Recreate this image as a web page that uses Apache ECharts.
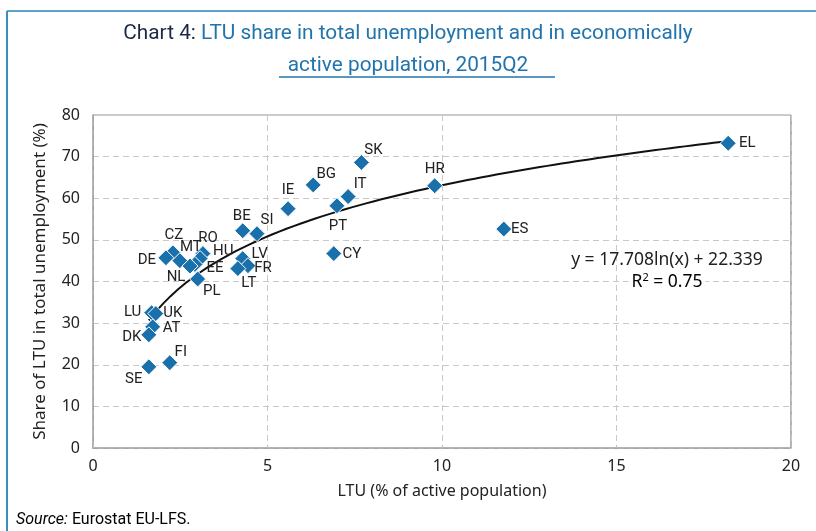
<!DOCTYPE html>
<html lang="en">
<head>
    <meta charset="UTF-8">
    <title>Chart 4</title>
    <script type="text/javascript" src="https://cdn.jsdelivr.net/npm/echarts@6/dist/echarts.min.js"></script>
    <style>
        html, body { margin: 0; padding: 0; background: #fff; }
        #main { width: 816px; height: 531px; }
    </style>
</head>
<body>
<div id="main"></div>
<script>
    // country codes
    let countries = ['EL', 'ES', 'HR', 'SK', 'IT', 'PT', 'CY', 'BG', 'IE', 'BE', 'SI', 'LV', 'FR', 'LT',
        'CZ', 'DE', 'MT', 'RO', 'HU', 'EE', 'NL', 'PL', 'LU', 'UK', 'AT', 'DK', 'SE', 'FI'];
    // LTU (% of active population)
    let ltuActive = [18.20, 11.77, 9.79, 7.69, 7.31, 6.99, 6.90, 6.31, 5.59, 4.29, 4.70, 4.29, 4.44, 4.15,
        2.29, 2.09, 2.49, 3.15, 3.07, 2.92, 2.78, 3.00, 1.68, 1.80, 1.71, 1.60, 1.60, 2.20];
    // share of LTU in total unemployment (%)
    let ltuShare = [73.2, 52.6, 63.0, 68.6, 60.4, 58.2, 46.7, 63.2, 57.5, 52.2, 51.5, 45.5, 43.8, 43.1,
        46.9, 45.7, 45.0, 46.7, 45.5, 44.1, 43.7, 40.6, 32.5, 32.3, 29.1, 27.2, 19.5, 20.5];
    // trendline y = a ln(x) + b
    let trendA = 17.708;
    let trendB = 22.339;

    // label centre offset from the marker (px)
    let labelOffset = {
        EL: [19, 0], ES: [16, 0], HR: [0, -17], SK: [12, -12], IT: [12, -12], PT: [1, 21], CY: [18, 1],
        BG: [13, -11], IE: [0, -18], BE: [-1, -14], SI: [10, -13], LV: [17, -4], FR: [15, 3], LT: [11, 15],
        CZ: [1, -18], DE: [-19, 2], MT: [11, -13], RO: [5, -15], HU: [23, -7], EE: [20, 4], NL: [-14, 11],
        PL: [14, 12], LU: [-19, 0], UK: [17, 0], AT: [19, 1], DK: [-17, 2], SE: [-15, 12], FI: [11, -10]
    };

    let scatterData = [];
    for (let i = 0; i < countries.length; i++) {
        scatterData.push({
            name: countries[i],
            value: [ltuActive[i], ltuShare[i]],
            label: {offset: labelOffset[countries[i]]}
        });
    }

    // trendline points over the data range
    let xMin = Math.min.apply(null, ltuActive);
    let xMax = Math.max.apply(null, ltuActive);
    let trendData = [];
    for (let k = 0; k <= 80; k++) {
        let x = xMin + (xMax - xMin) * k / 80;
        trendData.push([x, trendA * Math.log(x) + trendB]);
    }

    let narrow = 'Roboto, "Noto Sans", sans-serif';
    let plain = '"Noto Sans", "Open Sans", sans-serif';

    var myChart = echarts.init(document.getElementById('main'));
    var option = {
        animation: false,
        title: {
            left: 'center',
            top: 13,
            textStyle: {
                rich: {
                    a: {fontFamily: narrow, fontSize: 20.8, fontWeight: 'normal', color: '#1b2a44', lineHeight: 32},
                    b: {fontFamily: narrow, fontSize: 20.8, fontWeight: 'normal', color: '#2274ad', lineHeight: 32}
                }
            },
            text: '{a|Chart 4: }{b|LTU share in total unemployment and in economically}\n{b|active population, 2015Q2}'
        },
        grid: {left: 93, right: 25, top: 115, bottom: 83},
        xAxis: {
            type: 'value',
            min: 0, max: 20, interval: 5,
            name: 'LTU (% of active population)',
            nameLocation: 'middle',
            nameGap: 35,
            nameTextStyle: {fontFamily: plain, fontSize: 16, color: '#222'},
            axisLine: {show: true, lineStyle: {color: '#9a9a9a', width: 1.5}},
            axisTick: {show: true, inside: true, length: 3, lineStyle: {color: '#bbb'}},
            axisLabel: {fontFamily: plain, fontSize: 16, color: '#222', margin: 10},
            splitLine: {show: true, lineStyle: {color: '#c8c8c8', type: [6, 4]}}
        },
        yAxis: {
            type: 'value',
            min: 0, max: 80, interval: 10,
            name: 'Share of LTU in total unemployment (%)',
            nameLocation: 'middle',
            nameGap: 44,
            nameTextStyle: {fontFamily: plain, fontSize: 17, color: '#222'},
            axisLine: {show: true, lineStyle: {color: '#9a9a9a', width: 1.5}},
            axisTick: {show: false},
            axisLabel: {fontFamily: plain, fontSize: 16, color: '#222', margin: 13},
            splitLine: {show: true, lineStyle: {color: '#c8c8c8', type: [6, 4]}}
        },
        series: [
            {
                type: 'line',
                data: trendData,
                showSymbol: false,
                symbol: 'none',
                lineStyle: {color: '#111', width: 2},
                silent: true,
                z: 1
            },
            {
                type: 'scatter',
                symbol: 'diamond',
                symbolSize: 16,
                itemStyle: {color: '#1a70ab', opacity: 1, borderColor: '#fff', borderWidth: 1},
                label: {
                    show: true,
                    position: 'inside',
                    formatter: '{b}',
                    fontFamily: narrow,
                    fontSize: 15,
                    color: '#222'
                },
                data: scatterData,
                z: 2
            }
        ],
        graphic: [
            // frame lines
            {type: 'line', shape: {x1: 7, y1: 11, x2: 816, y2: 11}, style: {stroke: '#5aa3c9', lineWidth: 2}},
            {type: 'line', shape: {x1: 7, y1: 11, x2: 7, y2: 531}, style: {stroke: '#3d8dbd', lineWidth: 2}},
            // title underline
            {type: 'line', shape: {x1: 279, y1: 77, x2: 555, y2: 77}, style: {stroke: '#2274ad', lineWidth: 1.5}},
            // plot top & right border
            {type: 'line', shape: {x1: 93, y1: 115, x2: 791, y2: 115}, style: {stroke: '#9a9a9a', lineWidth: 1}},
            {type: 'line', shape: {x1: 791, y1: 115, x2: 791, y2: 448}, style: {stroke: '#9a9a9a', lineWidth: 1.5}},
            // trendline equation
            {
                type: 'text', x: 667, y: 251, z: 10,
                style: {
                    text: 'y = 17.708ln(x) + 22.339',
                    align: 'center',
                    verticalAlign: 'top',
                    font: '17.5px ' + plain,
                    fill: '#222'
                }
            },
            {
                type: 'text', x: 667, y: 272, z: 10,
                style: {
                    text: '{r|R}{s|2}{r| = 0.75}',
                    align: 'center',
                    verticalAlign: 'top',
                    backgroundColor: '#fff',
                    padding: [0, 3, 0, 3],
                    rich: {
                        r: {fontFamily: plain, fontSize: 17.5, color: '#222', lineHeight: 21},
                        s: {fontFamily: plain, fontSize: 11, color: '#222', lineHeight: 21, verticalAlign: 'top', padding: [0, 0, 8, 0]}
                    }
                }
            },
            // source
            {
                type: 'text', left: 16, top: 512,
                style: {
                    text: '{i|Source:}{n| Eurostat EU-LFS.}',
                    rich: {
                        i: {fontFamily: narrow, fontSize: 16, fontStyle: 'italic', color: '#1b2a44'},
                        n: {fontFamily: narrow, fontSize: 16, color: '#1b2a44'}
                    }
                }
            }
        ]
    };
    myChart.setOption(option);
</script>
</body>
</html>
